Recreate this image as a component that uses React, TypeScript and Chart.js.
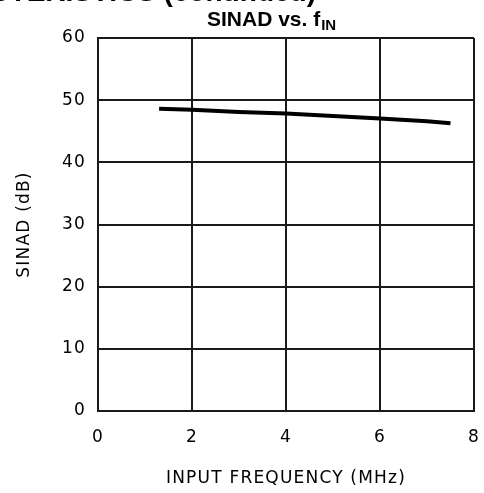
import React, { useEffect, useRef } from "react";
import { Chart, registerables } from "chart.js";

Chart.register(...registerables);

const freqMHz = [1.3, 2, 3, 4, 5, 6, 7, 7.5];
const sinadDb = [48.6, 48.45, 48.1, 47.85, 47.45, 47.05, 46.6, 46.3];
const xTickValues = [0, 2, 4, 6, 8];
const yTickValues = [0, 10, 20, 30, 40, 50, 60];
const chartTitle = "SINAD vs. f";
const chartTitleSub = "IN";
const headerText = "CHARACTERISTICS (continued)";
const xTitle = "INPUT FREQUENCY (MHz)";
const yTitle = "SINAD (dB)";

const tickFont = { family: "'DejaVu Sans', sans-serif", size: 17 };

export default function App() {
  const ref = useRef<HTMLCanvasElement>(null);

  useEffect(() => {
    document.body.style.margin = "0";
    const spacingPlugin = {
      id: "spacing",
      beforeUpdate(chart: any) {
        (chart.ctx as any).letterSpacing = "1.2px";
      },
      beforeDraw(chart: any) {
        (chart.ctx as any).letterSpacing = "1.2px";
      },
    };
    const textPlugin = {
      id: "extraText",
      afterDraw(chart: any) {
        const ctx = chart.ctx as CanvasRenderingContext2D;
        ctx.save();
        (ctx as any).letterSpacing = "0px";
        ctx.fillStyle = "#000";
        ctx.textAlign = "left";
        ctx.textBaseline = "alphabetic";
        // clipped header (only the bottom sliver is visible)
        ctx.font = "bold 28px 'Liberation Sans', Arial, sans-serif";
        const hw = ctx.measureText(headerText).width;
        ctx.fillText(headerText, 316 - hw, 0.5);
        // chart title with subscript
        ctx.font = "bold 21px 'Liberation Sans', Arial, sans-serif";
        const mw = ctx.measureText(chartTitle).width;
        ctx.fillText(chartTitle, 207, 26);
        ctx.font = "bold 15px 'Liberation Sans', Arial, sans-serif";
        ctx.fillText(chartTitleSub, 207 + mw + 1, 30);
        ctx.restore();
      },
    };

    const chart = new Chart(ref.current as HTMLCanvasElement, {
      type: "scatter",
      data: {
        datasets: [
          {
            data: freqMHz.map((x, i) => ({ x, y: sinadDb[i] })),
            showLine: true,
            borderColor: "#000",
            backgroundColor: "#000",
            borderWidth: 4,
            pointRadius: 0,
            fill: false,
            tension: 0,
          },
        ],
      },
      options: {
        responsive: false,
        animation: false,
        layout: { autoPadding: false, padding: { top: 38, right: 10, left: 0, bottom: 0 } },
        plugins: {
          legend: { display: false },
          tooltip: { enabled: false },
          title: { display: false },
        },
        scales: {
          x: {
            type: "linear",
            min: 0,
            max: 8,
            afterBuildTicks: (s: any) => {
              s.ticks = xTickValues.map((v) => ({ value: v }));
            },
            afterFit: (s: any) => {
              s.height = 82;
              s.paddingLeft = 0;
              s.paddingRight = 0;
            },
            grid: { color: "#1a1a1a", lineWidth: 2, drawTicks: false },
            border: { color: "#1a1a1a", width: 2 },
            ticks: { padding: 16, font: tickFont, color: "#000", maxRotation: 0 },
            title: {
              display: true,
              text: xTitle,
              color: "#000",
              font: tickFont,
              padding: { top: 0, bottom: 4 },
            },
          },
          y: {
            type: "linear",
            min: 0,
            max: 60,
            afterBuildTicks: (s: any) => {
              s.ticks = yTickValues.map((v) => ({ value: v }));
            },
            afterFit: (s: any) => {
              s.width = 98;
              s.paddingTop = 0;
              s.paddingBottom = 0;
            },
            grid: { color: "#1a1a1a", lineWidth: 2, drawTicks: false },
            border: { color: "#1a1a1a", width: 2 },
            ticks: { padding: 12, font: tickFont, color: "#000" },
            title: {
              display: true,
              text: yTitle,
              color: "#000",
              font: tickFont,
              padding: { top: 14, bottom: 0 },
            },
          },
        },
      },
      plugins: [spacingPlugin, textPlugin],
    } as any);
    return () => chart.destroy();
  }, []);

  return <canvas ref={ref} width={484} height={493} style={{ display: "block" }} />;
}
